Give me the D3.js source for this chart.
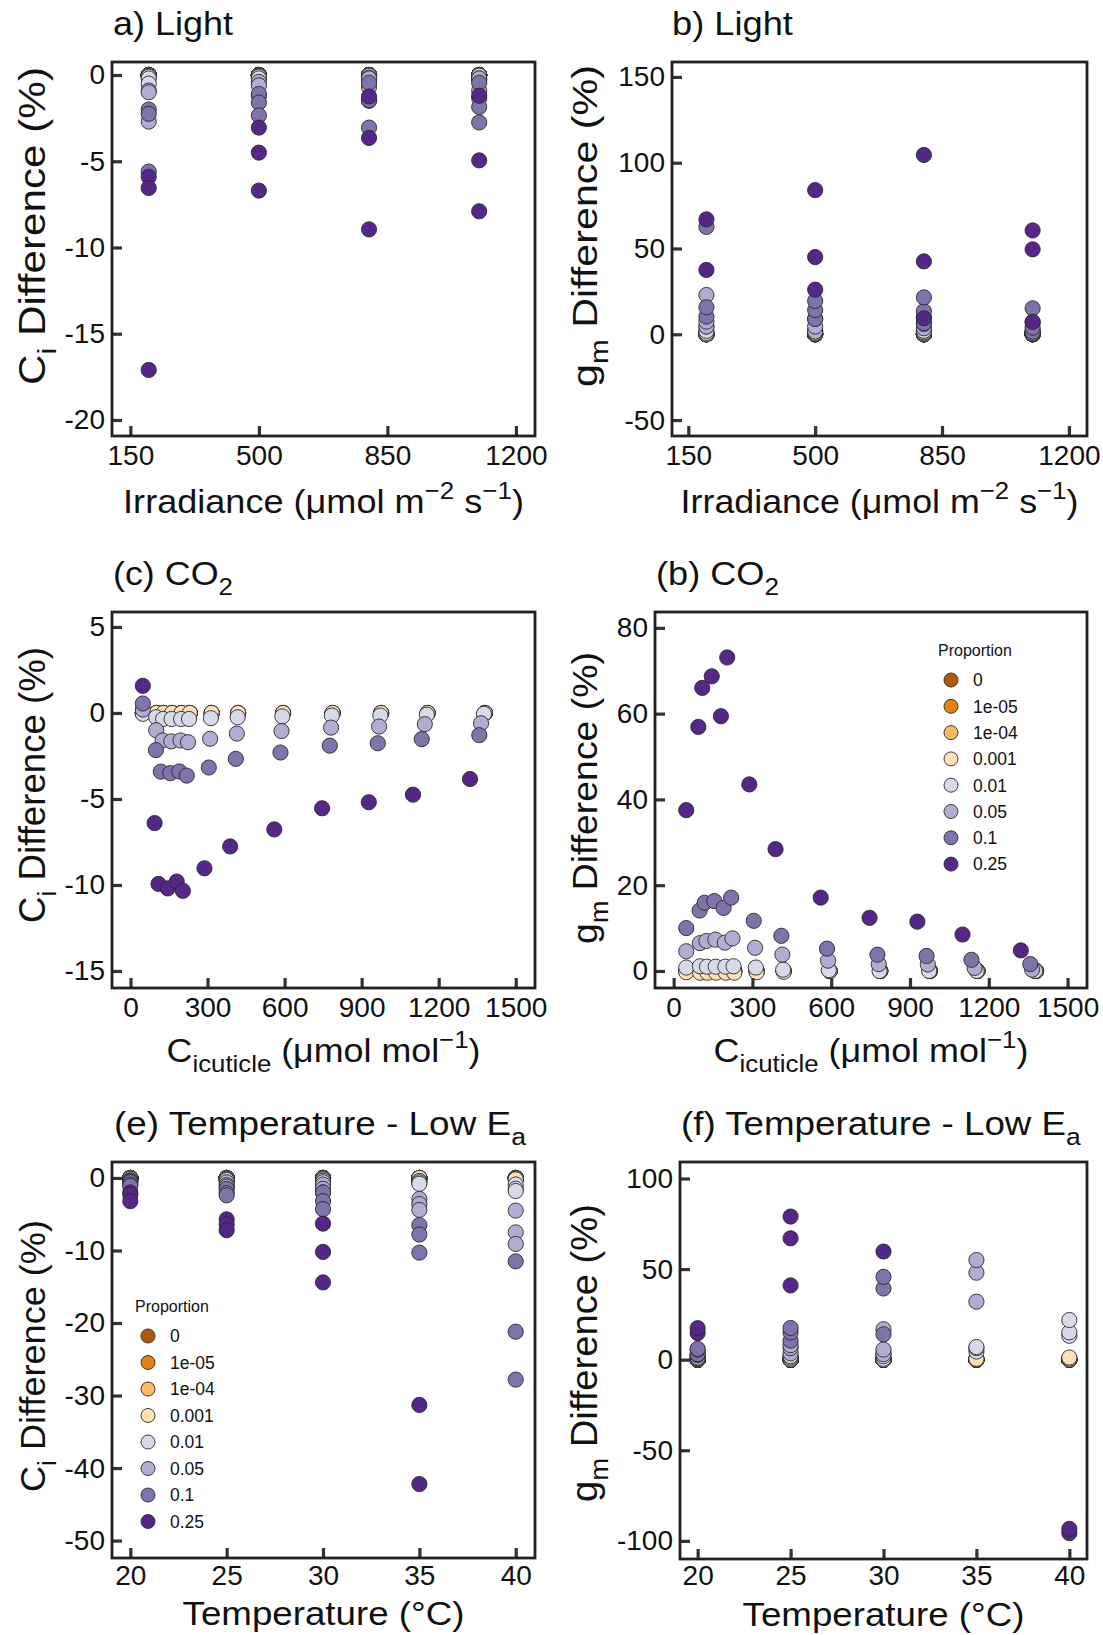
<!DOCTYPE html>
<html>
<head>
<meta charset="utf-8">
<script src="https://cdn.jsdelivr.net/npm/d3@7"></script>
<style>
  body { margin: 0; background: #fff; }
  text { font-family: Arial, "Liberation Sans", Helvetica, sans-serif; fill: #111; }
</style>
</head>
<body>
<script>
// ---- data -------------------------------------------------------------
const proportions = ["0", "1e-05", "1e-04", "0.001", "0.01", "0.05", "0.1", "0.25"];
const propColors = ["#b35806", "#e08214", "#fdb863", "#fee0b6", "#d8daeb", "#b2abd2", "#8073ac", "#542788"];

const lightLevels = [200, 500, 800, 1100];
const tempLevels = [20, 25, 30, 35, 40];

// [proportion][level] -> replicate values
const ciLight = [
  [[0, 0, 0], [0, 0, 0], [0, 0, 0], [0, 0, 0]],
  [[0, 0, 0], [0, 0, 0], [0, 0, 0], [0, 0, 0]],
  [[0, 0, 0], [0, 0, 0], [0, 0, 0], [0, 0, 0]],
  [[0, 0, -0.05], [0, 0, -0.05], [0, 0, 0], [0, 0, 0]],
  [[-0.1, -0.2, -0.5], [-0.05, -0.1, -0.2], [-0.05, -0.15, -0.3], [-0.05, -0.2, -0.3]],
  [[-0.9, -1.0, -2.7], [-0.4, -0.6, -1.2], [-0.2, -0.7, -1.5], [-0.2, -0.9, -1.35]],
  [[-2.0, -2.25, -5.6], [-1.1, -1.6, -2.35], [-0.45, -1.45, -3.05], [-0.45, -1.85, -2.75]],
  [[-5.9, -6.55, -17.1], [-3.05, -4.5, -6.7], [-1.25, -3.65, -8.95], [-1.2, -4.95, -7.9]]
];

const gmLight = [
  [[0, 0, 0], [0, 0, 0], [0, 0, 0], [0, 0, 0]],
  [[0, 0, 0], [0, 0, 0], [0, 0, 0], [0, 0, 0]],
  [[0, 0, 0], [0, 0, 0], [0, 0, 0], [0, 0, 0]],
  [[0, 0, 0], [0, 0, 0], [0, 0, 0], [0, 0, 0]],
  [[0.8, 2, 4.5], [0.3, 0.8, 1.8], [0.5, 1.2, 2], [0.2, 0.5, 1.5]],
  [[4.5, 7.4, 22.9], [1.6, 4.5, 9], [3.5, 6, 10], [0.8, 2, 7]],
  [[10.3, 15.7, 62.6], [8.9, 14.1, 19.4], [6.5, 13.5, 21.5], [1.5, 3.9, 15.1]],
  [[37.5, 67], [26, 45, 84], [9.3, 42.5, 104.5], [7.2, 49.5, 60.5]]
];

// CO2 response: x = Ci,cuticle per proportion, y per proportion
const co2X = [
  [48, 101, 129, 162, 199, 231, 316, 419, 594, 787, 976, 1157, 1380],
  [48, 101, 129, 162, 199, 231, 316, 419, 594, 787, 976, 1157, 1380],
  [48, 101, 129, 162, 199, 231, 316, 419, 594, 787, 976, 1157, 1380],
  [48, 101, 129, 162, 199, 231, 316, 419, 594, 787, 976, 1157, 1380],
  [48, 100, 127, 160, 197, 228, 313, 417, 591, 784, 973, 1154, 1376],
  [48, 100, 125, 159, 195, 224, 310, 414, 588, 781, 968, 1146, 1365],
  [48, 99, 118, 155, 190, 219, 305, 410, 584, 776, 963, 1134, 1358],
  [48, 94, 109, 145, 180, 204, 288, 388, 560, 746, 928, 1100, 1322]
];

const ciCO2 = [
  [0, 0, 0, 0, 0, 0, 0, 0, 0, 0, 0, 0, 0],
  [0, 0, 0, 0, 0, 0, 0, 0, 0, 0, 0, 0, 0],
  [0, 0, 0, 0, 0, 0, 0, 0, 0, 0, 0, 0, 0],
  [0, 0, 0, 0, 0, 0, 0, 0, 0, 0, 0, 0, 0],
  [-0.05, -0.25, -0.35, -0.35, -0.35, -0.35, -0.3, -0.25, -0.2, -0.15, -0.15, -0.1, -0.05],
  [0.2, -1.0, -1.6, -1.65, -1.6, -1.7, -1.5, -1.2, -1.05, -0.85, -0.79, -0.65, -0.6],
  [0.55, -2.16, -3.41, -3.5, -3.4, -3.64, -3.17, -2.67, -2.3, -1.9, -1.76, -1.52, -1.29],
  [1.58, -6.4, -9.94, -10.2, -9.8, -10.34, -9.03, -7.76, -6.77, -5.54, -5.19, -4.75, -3.84]
];

const gmCO2 = [
  [0, 0, 0, 0, 0, 0, 0, 0, 0, 0, 0, 0, 0],
  [0, 0, 0, 0, 0, 0, 0, 0, 0, 0, 0, 0, 0],
  [0, 0, 0, 0, 0, 0, 0, 0, 0, 0, 0, 0, 0],
  [-0.3, -0.4, -0.4, -0.4, -0.4, -0.4, -0.3, -0.2, 0, 0, 0, 0, 0],
  [0.8, 1.1, 1.0, 1.0, 1.0, 1.1, 0.8, 0.3, 0.2, 0, 0, 0, 0],
  [4.6, 6.5, 7.0, 7.3, 6.6, 7.6, 5.4, 3.8, 2.4, 1.6, 1.5, 0.7, 0.3],
  [10, 14.1, 15.9, 16.3, 14.7, 17.1, 11.7, 8.2, 5.2, 3.8, 3.5, 2.6, 1.6],
  [37.5, 56.9, 66, 68.7, 59.4, 73.1, 43.5, 28.4, 17.1, 12.4, 11.5, 8.5, 4.8]
];

const ciTemp = [
  [[0, 0, 0], [0, 0, 0], [0, 0, 0], [0, 0, 0], [0, 0, 0]],
  [[0, 0, 0], [0, 0, 0], [0, 0, 0], [0, 0, 0], [0, 0, 0]],
  [[0, 0, 0], [0, 0, 0], [0, 0, 0], [0, 0, 0], [0, 0, 0]],
  [[0, 0, 0], [0, 0, 0], [0, 0, -0.1], [0, 0, 0], [0, -0.1, -0.2]],
  [[0, -0.1, -0.1], [-0.1, -0.2, -0.3], [-0.2, -0.4, -0.6], [-0.4, -0.6, -0.8], [-0.9, -1.5, -1.8]],
  [[-0.3, -0.4, -0.5], [-0.6, -1.0, -1.2], [-0.9, -1.5, -2.0], [-2.9, -3.6, -4.4], [-4.5, -7.5, -9.1]],
  [[-0.6, -0.9, -1.1], [-1.5, -2.1, -2.4], [-2.0, -3.2, -4.3], [-6.5, -7.8, -10.3], [-11.5, -21.2, -27.8]],
  [[-2.0, -2.3, -3.2], [-5.7, -6.4, -7.2], [-6.3, -10.2, -14.4], [-31.3, -42.2], []]
];

const gmTemp = [
  [[0, 0, 0], [0, 0, 0], [0, 0, 0], [0, 0, 0], [0, 0, 0]],
  [[0, 0, 0], [0, 0, 0], [0, 0, 0], [0, 0, 0], [0, 0, 0]],
  [[0, 0, 0], [0, 0, 0], [0, 0, 0], [0, 0, 0], [0, 0, 0]],
  [[0, 0, 0], [0, 0, 0], [0, 0, 0], [0, 0.3, 0.5], [0, 0.6, 1.2]],
  [[0.3, 0.5, 0.8], [0.5, 1.2, 2], [0.5, 1.9, 3.5], [4.5, 6.4, 7], [13.2, 15.1, 21.9]],
  [[1.2, 2.5, 3], [3.5, 6.4, 8], [3, 5.6, 16.8], [32, 48, 55], []],
  [[3, 5.5, 6], [10.5, 15, 17.5], [14, 39.3, 45.7], [], []],
  [[14.7, 17.4], [41, 67, 79], [59.7], [], [-95.7, -93.4]]
];

const lightTicks = [150, 500, 850, 1200];
const co2Ticks = [0, 300, 600, 900, 1200, 1500];
const tempTicks = [20, 25, 30, 35, 40];

// ---- helpers ----------------------------------------------------------
const W = 1103, H = 1635;
const svg = d3.select("body").append("svg")
  .attr("width", W).attr("height", H)
  .style("display", "block");

function gridPoints(levels, table) {
  const out = [];
  table.forEach((rows, p) => rows.forEach((vals, i) =>
    vals.forEach(v => out.push({ p, x: levels[i], y: v }))));
  return out;
}

function seriesPoints(xs, ys) {
  const out = [];
  ys.forEach((vals, p) => vals.forEach((v, i) => out.push({ p, x: xs[p][i], y: v })));
  return out;
}

// text made of pieces, some sub/superscript
function rich(parent, parts, size) {
  const t = parent.append("text").style("font-size", size + "px");
  let shift = 0;
  parts.forEach(pt => {
    const off = pt.sub ? size * 0.3 : pt.sup ? -size * 0.42 : 0;
    const ts = t.append("tspan").attr("dy", off - shift).text(pt.t);
    if (pt.sub || pt.sup) ts.style("font-size", (size * 0.72) + "px");
    shift = off;
  });
  return t;
}

function placeText(t, x, y, target, rotate) {
  const w = t.node().getComputedTextLength();
  const s = target ? target / w : 1;
  t.attr("transform", `translate(${x},${y})${rotate ? " rotate(-90)" : ""} scale(${s},1)`);
}

function drawPanel(cfg) {
  const [l, t, r, b] = cfg.box;
  const x = d3.scaleLinear().domain(cfg.xd).range([l, r]);
  const y = d3.scaleLinear().domain(cfg.yd).range([b, t]);
  const g = svg.append("g");

  g.selectAll("circle").data(cfg.points).join("circle")
    .attr("cx", d => x(d.x))
    .attr("cy", d => y(d.y))
    .attr("r", 7.6)
    .attr("fill", d => propColors[d.p])
    .attr("stroke", "#2a2a2a")
    .attr("stroke-width", 0.9);

  const styleAxis = ax => {
    ax.select(".domain").remove();
    ax.selectAll("line").attr("stroke", "#333").attr("stroke-width", 3.2);
    ax.selectAll("text").attr("fill", "#111")
      .style("font-size", "28px")
      .style("font-family", "Arial, 'Liberation Sans', sans-serif");
  };

  g.append("g").attr("transform", `translate(${l},0)`)
    .call(d3.axisLeft(y).tickValues(cfg.yt).tickSize(-10).tickPadding(7).tickFormat(d => String(d)))
    .call(styleAxis);

  g.append("g").attr("transform", `translate(0,${b})`)
    .call(d3.axisBottom(x).tickValues(cfg.xt).tickSize(-10).tickPadding(cfg.xPad).tickFormat(d => String(d)))
    .call(styleAxis);

  g.append("rect")
    .attr("x", l).attr("y", t)
    .attr("width", r - l).attr("height", b - t)
    .attr("fill", "none")
    .attr("stroke", "#222")
    .attr("stroke-width", 2.8);

  // title
  const ti = rich(g, cfg.title, 33);
  placeText(ti, cfg.titlePos[0], cfg.titlePos[1], cfg.titleLen);

  // x label
  const xl = rich(g, cfg.xLabel, 34).attr("text-anchor", "middle");
  placeText(xl, (l + r) / 2, cfg.xLabelY, cfg.xLabelLen);

  // y label
  const yl = rich(g, cfg.yLabel, 36).attr("text-anchor", "middle");
  placeText(yl, cfg.yLabelPos[0], cfg.yLabelPos[1], cfg.yLabelLen, true);

  if (cfg.legend) drawLegend(g, cfg.legend);
}

function drawLegend(g, lg) {
  g.append("text")
    .attr("x", lg.x).attr("y", lg.titleY)
    .style("font-size", "16px")
    .text("Proportion");
  proportions.forEach((p, i) => {
    const cy = lg.y0 + i * lg.step;
    g.append("circle")
      .attr("cx", lg.cx).attr("cy", cy).attr("r", 7)
      .attr("fill", propColors[i])
      .attr("stroke", "#2a2a2a").attr("stroke-width", 0.9);
    g.append("text")
      .attr("x", lg.cx + 22).attr("y", cy)
      .attr("dy", "0.36em")
      .style("font-size", "17.5px")
      .text(p);
  });
}

const ciLab = [{ t: "C" }, { t: "i", sub: true }, { t: " Difference (%)" }];
const gmLab = [{ t: "g" }, { t: "m", sub: true }, { t: " Difference (%)" }];
const irrLab = [{ t: "Irradiance (\u03bcmol m" }, { t: "\u22122", sup: true }, { t: " s" }, { t: "\u22121", sup: true }, { t: ")" }];
const cicLab = [{ t: "C" }, { t: "icuticle", sub: true }, { t: " (\u03bcmol mol" }, { t: "\u22121", sup: true }, { t: ")" }];
const tempLab = [{ t: "Temperature (\u00b0C)" }];

// ---- panels -----------------------------------------------------------
drawPanel({
  box: [112, 62, 535, 436], xd: [100, 1252], yd: [-20.93, 0.754],
  xt: lightTicks, yt: [0, -5, -10, -15, -20], xPad: 9,
  points: gridPoints(lightLevels, ciLight),
  title: [{ t: "a) Light" }], titlePos: [113, 35], titleLen: 120,
  xLabel: irrLab, xLabelY: 513, xLabelLen: 401,
  yLabel: ciLab, yLabelPos: [45, 226], yLabelLen: 318
});

drawPanel({
  box: [672, 62, 1087, 436], xd: [105, 1250], yd: [-59.3, 158.7],
  xt: lightTicks, yt: [150, 100, 50, 0, -50], xPad: 9,
  points: gridPoints(lightLevels, gmLight),
  title: [{ t: "b) Light" }], titlePos: [672, 35], titleLen: 121,
  xLabel: irrLab, xLabelY: 513, xLabelLen: 398,
  yLabel: gmLab, yLabelPos: [597, 226], yLabelLen: 322
});

drawPanel({
  box: [112, 612, 535, 988], xd: [-72, 1575], yd: [-15.99, 5.87],
  xt: co2Ticks, yt: [5, 0, -5, -10, -15], xPad: 9,
  points: seriesPoints(co2X, ciCO2),
  title: [{ t: "(c) CO" }, { t: "2", sub: true }], titlePos: [113, 585], titleLen: 120,
  xLabel: cicLab, xLabelY: 1062, xLabelLen: 314,
  yLabel: ciLab, yLabelPos: [45, 785], yLabelLen: 276
});

drawPanel({
  box: [655, 612, 1087, 988], xd: [-71, 1574], yd: [-3.97, 83.7],
  xt: co2Ticks, yt: [80, 60, 40, 20, 0], xPad: 9,
  points: seriesPoints(co2X, gmCO2),
  title: [{ t: "(b) CO" }, { t: "2", sub: true }], titlePos: [656, 585], titleLen: 123,
  xLabel: cicLab, xLabelY: 1062, xLabelLen: 315,
  yLabel: gmLab, yLabelPos: [597, 798], yLabelLen: 292,
  legend: { x: 938, titleY: 656, cx: 951, y0: 680, step: 26.3 }
});

drawPanel({
  box: [112, 1162, 535, 1558], xd: [19.05, 41.0], yd: [-52.4, 2.2],
  xt: tempTicks, yt: [0, -10, -20, -30, -40, -50], xPad: 7,
  points: gridPoints(tempLevels, ciTemp),
  title: [{ t: "(e) Temperature - Low E" }, { t: "a", sub: true }], titlePos: [114, 1135], titleLen: 412,
  xLabel: tempLab, xLabelY: 1625, xLabelLen: 282,
  yLabel: ciLab, yLabelPos: [45, 1356], yLabelLen: 272,
  legend: { x: 135, titleY: 1312, cx: 148, y0: 1336, step: 26.5 }
});

drawPanel({
  box: [680, 1162, 1087, 1559], xd: [19.05, 40.95], yd: [-110, 109.1],
  xt: tempTicks, yt: [100, 50, 0, -50, -100], xPad: 6,
  points: gridPoints(tempLevels, gmTemp),
  title: [{ t: "(f) Temperature - Low E" }, { t: "a", sub: true }], titlePos: [681, 1135], titleLen: 400,
  xLabel: tempLab, xLabelY: 1626, xLabelLen: 282,
  yLabel: gmLab, yLabelPos: [597, 1353], yLabelLen: 298
});
</script>
</body>
</html>
